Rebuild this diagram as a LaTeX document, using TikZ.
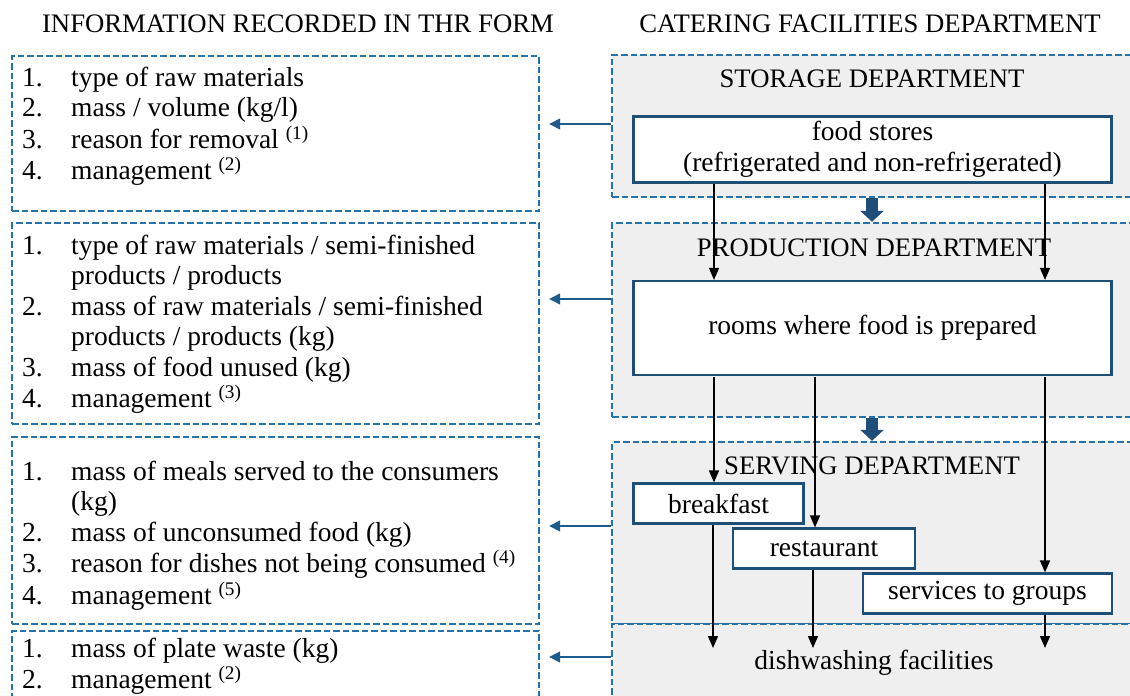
\documentclass[tikz,border=0pt]{standalone}
\usepackage{fontspec}
\setmainfont{Liberation Serif}
\usetikzlibrary{arrows.meta}
\definecolor{dashblue}{RGB}{38,114,172}
\definecolor{darkblue}{RGB}{31,78,121}
\definecolor{linkblue}{RGB}{31,92,139}
\definecolor{panel}{RGB}{239,239,239}
\newcommand\dgbody{\fontsize{27.5}{30.5}\selectfont}
\newcommand\dgtitle{\fontsize{26.7}{29}\selectfont}
\tikzset{
 infobox/.style={draw=dashblue, dash pattern=on 6.5pt off 3pt, line width=2.4pt, fill=white, rectangle, inner sep=0pt},
 deptbox/.style={draw=dashblue, dash pattern=on 6.5pt off 3pt, line width=2.4pt, fill=panel, rectangle, inner sep=0pt},
 unitbox/.style={draw=darkblue, line width=2.2pt, fill=white, rectangle, inner sep=0pt, align=center, font=\dgbody},
 listtext/.style={anchor=base west, inner sep=0pt, font=\dgbody},
 titletext/.style={inner sep=0pt, font=\dgtitle, anchor=base},
 flow/.style={-{Triangle[width=10pt,length=12pt]}, line width=1.4pt, black},
 link/.style={-{Triangle[width=11pt,length=11pt]}, line width=1.4pt, linkblue, shorten >=9pt},
 bigarrow/.style={-{Triangle[width=23pt,length=11pt]}, line width=12pt, darkblue},
}
\begin{document}
\begin{tikzpicture}[x=1pt,y=-1pt]
\useasboundingbox (0,0) rectangle (1130,696);
\clip (0,0) rectangle (1130,696);
\fill[white] (0,0) rectangle (1130,696);

% column titles
\node[titletext] (ltitle) at (298,32) {INFORMATION RECORDED IN THR FORM};
\node[titletext] (rtitle) at (870,32) {CATERING FACILITIES DEPARTMENT};

% left info boxes
\node[infobox, minimum width=527pt, minimum height=155pt] (info1) at (275.5,133.5) {};
\node[infobox, minimum width=527pt, minimum height=201pt] (info2) at (275.5,323.5) {};
\node[infobox, minimum width=527pt, minimum height=187pt] (info3) at (275.5,530.5) {};
\node[infobox, minimum width=527pt, minimum height=100pt] (info4) at (275.5,681) {};

\node[listtext] (list1) at (22,86) {\begin{tabular}[t]{@{}p{49pt}@{}l@{}}
1. & type of raw materials\\
2. & mass / volume (kg/l)\\
3. & reason for removal \textsuperscript{(1)}\\
4. & management \textsuperscript{(2)}
\end{tabular}};
\node[listtext] (list2) at (22,254) {\begin{tabular}[t]{@{}p{49pt}@{}l@{}}
1. & type of raw materials / semi-finished\\
 & products / products\\
2. & mass of raw materials / semi-finished\\
 & products / products (kg)\\
3. & mass of food unused (kg)\\
4. & management \textsuperscript{(3)}
\end{tabular}};
\node[listtext] (list3) at (22,480) {\begin{tabular}[t]{@{}p{49pt}@{}l@{}}
1. & mass of meals served to the consumers\\
 & (kg)\\
2. & mass of unconsumed food (kg)\\
3. & reason for dishes not being consumed \textsuperscript{(4)}\\
4. & management \textsuperscript{(5)}
\end{tabular}};
\node[listtext] (list4) at (22,657) {\begin{tabular}[t]{@{}p{49pt}@{}l@{}}
1. & mass of plate waste (kg)\\
2. & management \textsuperscript{(2)}
\end{tabular}};

% department panels
\node[deptbox, minimum width=540pt, minimum height=142pt] (storage) at (882,126) {};
\node[deptbox, minimum width=540pt, minimum height=194pt] (production) at (882,320) {};
\node[deptbox, minimum width=540pt, minimum height=182pt] (serving) at (882,533) {};
\node[deptbox, minimum width=540pt, minimum height=110pt] (dish) at (882,679) {};

\node[titletext] (storaget) at (872,87) {STORAGE DEPARTMENT};
\node[titletext] (productiont) at (874,256) {PRODUCTION DEPARTMENT};
\node[titletext] (servingt) at (872,474) {SERVING DEPARTMENT};
\node[titletext, font=\dgbody] (dishtext) at (874,669) {dishwashing facilities};

% unit boxes
\node[unitbox, minimum width=478pt, minimum height=66pt] (stores) at (872.5,149.5) {food stores\\(refrigerated and non-refrigerated)};
\node[unitbox, minimum width=478pt, minimum height=94pt] (rooms) at (872.5,328) {rooms where food is prepared};
\node[unitbox, minimum width=170pt, minimum height=40pt] (breakfast) at (718.5,503.5) {breakfast};
\node[unitbox, minimum width=182pt, minimum height=40pt] (restaurant) at (824,548.5) {restaurant};
\node[unitbox, minimum width=249pt, minimum height=40pt] (groups) at (987.5,593.5) {services to groups};

% big transfer arrows
\draw[bigarrow] (storage.south -| 872,0) -- (production.north -| 872,0);
\draw[bigarrow] (production.south -| 872,0) -- (serving.north -| 872,0);

% flow arrows
\coordinate (sA) at (714,184);
\coordinate (sB) at (1045,184);
\coordinate (rA) at (714,377);
\coordinate (rB) at (815,377);
\coordinate (rC) at (1045,377);
\coordinate (dA) at (713,648);
\coordinate (dB) at (813,648);
\coordinate (dC) at (1045,648);
\draw[flow] (sA) -- (sA |- rooms.north);
\draw[flow] (sB) -- (sB |- rooms.north);
\draw[flow] (rA) -- (rA |- breakfast.north);
\draw[flow] (rB) -- (rB |- restaurant.north);
\draw[flow] (rC) -- (rC |- groups.north);
\draw[flow] (dA |- breakfast.south) -- (dA);
\draw[flow] (dB |- restaurant.south) -- (dB);
\draw[flow] (dC |- groups.south) -- (dC);

% links to info boxes
\draw[link] (storage.west |- 0,124) -- (info1.east |- 0,124);
\draw[link] (production.west |- 0,299) -- (info2.east |- 0,299);
\draw[link] (serving.west |- 0,526) -- (info3.east |- 0,526);
\draw[link] (dish.west |- 0,657) -- (info4.east |- 0,657);
\end{tikzpicture}
\end{document}
